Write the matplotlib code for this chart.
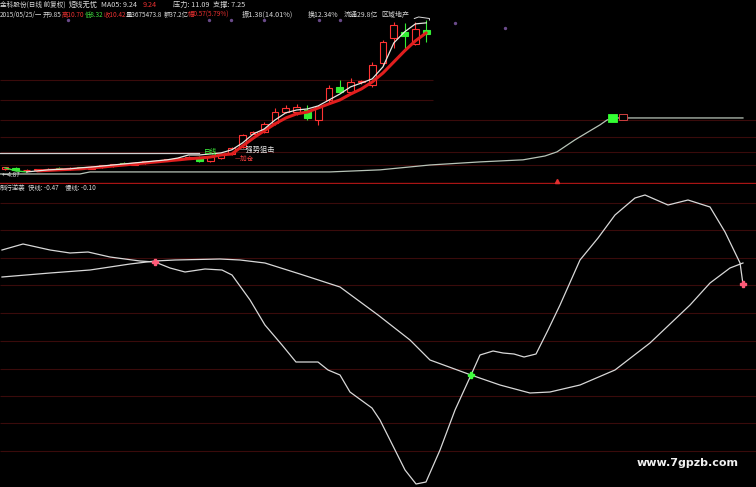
import matplotlib
matplotlib.use('Agg')
import matplotlib.pyplot as plt
from matplotlib.patches import Rectangle

plt.rcParams['font.family'] = ['Noto Sans CJK SC', 'DejaVu Sans']

# ---------------- data: daily candles (price) ----------------
bar_idx = list(range(40))
opens  = [5.00, 5.02, 4.93, 4.95, 4.96, 5.00, 4.98, 5.05, 5.00, 5.06,
          5.12, 5.22, 5.15, 5.20, 5.27, 5.30, 5.35, 5.40, 5.45, 5.30,
          5.41, 5.57, 5.84, 6.35, 6.43, 6.78, 7.20, 7.20, 7.28, 6.89,
          7.67, 8.18, 7.98, 8.35, 8.26, 9.11, 10.08, 10.30, 9.85, 10.40]
highs  = [5.08, 5.05, 4.97, 5.00, 5.02, 5.05, 5.06, 5.07, 5.10, 5.14,
          5.18, 5.24, 5.24, 5.30, 5.34, 5.38, 5.42, 5.48, 5.50, 5.50,
          5.58, 5.85, 6.35, 6.48, 6.82, 7.36, 7.48, 7.50, 7.48, 7.48,
          8.26, 8.45, 8.53, 8.45, 9.15, 10.00, 10.71, 10.67, 10.70, 10.78]
lows   = [4.96, 4.90, 4.87, 4.91, 4.93, 4.96, 4.96, 4.98, 4.98, 5.04,
          5.08, 5.12, 5.13, 5.18, 5.24, 5.28, 5.32, 5.36, 5.26, 5.26,
          5.38, 5.53, 5.82, 6.33, 6.39, 6.70, 7.17, 7.10, 6.89, 6.70,
          7.55, 7.96, 7.94, 8.30, 8.18, 9.03, 9.70, 9.62, 9.82, 9.93]
closes = [5.05, 4.93, 4.95, 4.97, 5.00, 4.98, 5.04, 5.00, 5.08, 5.12,
          5.16, 5.15, 5.22, 5.28, 5.31, 5.36, 5.40, 5.46, 5.30, 5.45,
          5.53, 5.80, 6.31, 6.42, 6.74, 7.20, 7.36, 7.40, 6.97, 7.40,
          8.14, 7.98, 8.37, 8.40, 9.03, 9.93, 10.59, 10.15, 10.42, 10.25]

# short MA (white) and long MA (thick red)
ma_short = [5.03, 4.91, 4.87, 4.91, 4.95, 4.97, 4.99, 5.03, 5.06, 5.10,
            5.14, 5.18, 5.22, 5.26, 5.30, 5.34, 5.41, 5.53, 5.53, 5.57,
            5.61, 5.73, 6.00, 6.35, 6.54, 6.89, 7.17, 7.28, 7.32, 7.44,
            7.67, 7.90, 8.18, 8.33, 8.49, 8.96, 9.89, 10.32, 10.63, 10.67]
ma_long = [None, None, None, 4.91, 4.93, 4.95, 4.97, 4.99, 5.03, 5.06,
           5.10, 5.14, 5.18, 5.22, 5.26, 5.30, 5.34, 5.38, 5.41, 5.45,
           5.53, 5.57, 5.88, 6.19, 6.47, 6.74, 6.97, 7.13, 7.20, 7.36,
           7.52, 7.67, 7.90, 8.10, 8.37, 8.72, 9.15, 9.58, 9.97, 10.28]

# zone line (gray) in the price panel
zone_x = [-0.46, 6.94, 7.87, 30.09, 34.72, 39.35, 43.98, 47.96, 50.0,
          51.11, 52.78, 54.17, 55.09, 55.74, 56.48, 68.33]
zone_y = [4.79, 4.79, 4.87, 4.87, 4.95, 5.14, 5.26, 5.34, 5.49,
          5.65, 6.12, 6.47, 6.70, 6.89, 6.97, 6.97]

# pressure line (white, left)
press_x = [-0.46, 18.0]
press_y = [5.61, 5.61]

# signal boxes on the zone line
sig_x = [56.25, 57.2]
sig_lo = [6.82, 6.89]
sig_hi = [7.13, 7.13]

# small purple dots near the top
dot_x = [5.83, 18.9, 20.9, 24.0, 29.1, 31.0, 41.7, 46.3]
dot_y = [10.78, 10.78, 10.78, 10.78, 10.78, 10.78, 10.67, 10.47]

price_grid_full = [6.89, 6.23, 5.65, 5.14]
price_grid_part = [8.45, 7.67]

# ---------------- data: indicator panel ----------------
fast_x = [-0.28, 1.67, 4.17, 6.02, 7.69, 9.72, 12.5, 13.89, 15.28, 16.67,
          18.52, 20.09, 21.02, 22.69, 24.07, 25.65, 26.94, 28.98, 29.91, 31.02,
          31.94, 33.98, 34.72, 35.65, 37.04, 38.06, 38.98, 40.28, 41.67, 43.15,
          43.98, 45.19, 46.11, 47.13, 48.06, 49.17, 50.28, 51.39, 53.24, 54.91,
          56.48, 58.33, 59.26, 61.39, 63.24, 65.28, 66.67, 68.06, 68.33]
fast_v = [0.80, 0.86, 0.80, 0.77, 0.78, 0.73, 0.69, 0.68, 0.62, 0.58,
          0.61, 0.60, 0.55, 0.30, 0.05, -0.15, -0.32, -0.32, -0.40, -0.45,
          -0.62, -0.78, -0.90, -1.10, -1.40, -1.54, -1.52, -1.20, -0.80, -0.45,
          -0.25, -0.21, -0.23, -0.24, -0.27, -0.24, 0.00, 0.25, 0.70, 0.92,
          1.15, 1.32, 1.35, 1.25, 1.30, 1.23, 0.98, 0.67, 0.46]
slow_x = [-0.28, 4.17, 7.87, 11.57, 13.89, 15.74, 19.91, 21.76, 24.07, 27.31,
          31.02, 34.54, 37.5, 39.35, 43.15, 45.83, 48.61, 50.46, 53.24, 56.48,
          59.72, 63.43, 65.28, 67.13, 68.33]
slow_v = [0.53, 0.57, 0.60, 0.66, 0.69, 0.70, 0.71, 0.70, 0.67, 0.56,
          0.43, 0.15, -0.10, -0.30, -0.45, -0.55, -0.63, -0.62, -0.55, -0.40,
          -0.13, 0.25, 0.47, 0.62, 0.67]
cross_red_x = [13.89, 68.33]
cross_red_v = [0.68, 0.46]
cross_green_x = [43.15]
cross_green_v = [-0.45]
ind_grid = [1.27, 1.00, 0.72, 0.45, 0.17, -0.11, -0.39, -0.66, -0.93, -1.21]

# ---------------- drawing ----------------
W, H = 756, 487
fig = plt.figure(figsize=(7.56, 4.87), dpi=100, facecolor='black')
ax = fig.add_axes([0, 303 / 487, 1, 184 / 487])
ax2 = fig.add_axes([0, 0, 1, 303 / 487])
for a in (ax, ax2):
    a.set_facecolor('black')
    a.set_axis_off()
    a.set_xlim(-0.463, 69.537)
ax.set_ylim(4.40, 11.56)
ax2.set_ylim(-1.57, 1.46)

RED = '#ff3333'
GREEN = '#33ee33'
GRID = '#3a0b0b'

# price panel grid
ax.hlines(price_grid_full, -0.463, 69.537, colors=GRID, lw=0.8, zorder=0)
ax.hlines(price_grid_part, -0.463, 39.6, colors=GRID, lw=0.8, zorder=0)
ax.axhline(4.44, color='#a81414', lw=1.0, zorder=1)

# zone + pressure lines
ax.plot(zone_x, zone_y, color='#b8c4b8', lw=0.9, zorder=2)
ax.plot(press_x, press_y, color='#d0d0d0', lw=0.9, zorder=2)

# candles
w = 0.62
for i, o, h, l, c in zip(bar_idx, opens, highs, lows, closes):
    up = c >= o
    col = RED if up else GREEN
    lo_b, hi_b = min(o, c), max(o, c)
    ax.vlines(i, l, lo_b, colors=col, lw=0.8, zorder=3)
    ax.vlines(i, hi_b, h, colors=col, lw=0.8, zorder=3)
    ax.add_patch(Rectangle((i - w / 2, lo_b), w, max(hi_b - lo_b, 0.03),
                           facecolor='black' if up else col,
                           edgecolor=col, lw=0.8, zorder=3))

# moving averages
ma_long_x = [i for i, v in zip(bar_idx, ma_long) if v is not None]
ma_long_v = [v for v in ma_long if v is not None]
ax.plot(ma_long_x, ma_long_v, color='#e01e1e', lw=2.2, zorder=4,
        solid_capstyle='round')
ax.plot(bar_idx[:3], ma_short[:3], color='#40e040', lw=1.0, zorder=5)
ax.plot(bar_idx[2:], ma_short[2:], color='#e8e8e0', lw=0.9, zorder=5)

# signal boxes
ax.add_patch(Rectangle((sig_x[0] - 0.42, sig_lo[0]), 0.84, sig_hi[0] - sig_lo[0],
                       facecolor='#33ff33', edgecolor='#33ff33', lw=0.6, zorder=4))
ax.add_patch(Rectangle((sig_x[1] - 0.36, sig_lo[1]), 0.72, sig_hi[1] - sig_lo[1],
                       facecolor='black', edgecolor='#d04040', lw=0.7, zorder=4))

# dots and marker
ax.scatter(dot_x, dot_y, s=2, color='#6a4a8a', zorder=2)
ax.plot([51.1], [4.52], marker='^', color='#e03030', ms=3, zorder=5)

# max marker near top right of candles
ax.plot([37.9, 38.3, 39.3, 39.3], [10.84, 10.90, 10.84, 10.78],
        color='#d8d8d8', lw=0.7, zorder=5)

# annotations in price panel
ax.text(21.76, 5.73, '—强势狙击', color='#e8e8e8', fontsize=5.2,
        va='center', ha='left', zorder=6)
ax.text(18.4, 5.64, '日线', color='#40ff40', fontsize=4.8,
        va='center', ha='left', zorder=6)
ax.text(21.3, 5.38, '—加仓', color='#ff4040', fontsize=4.8,
        va='center', ha='left', zorder=6)
ax.text(-0.3, 4.74, '←4.87', color='#d8d8d8', fontsize=4.6,
        va='center', ha='left', zorder=6)

# indicator panel
ax2.hlines(ind_grid, -0.463, 69.537, colors=GRID, lw=0.8, zorder=0)
ax2.plot(slow_x, slow_v, color='#d8d8d8', lw=0.9, zorder=2)
ax2.plot(fast_x, fast_v, color='#d8d8d8', lw=0.9, zorder=2)
ax2.plot(cross_red_x, cross_red_v, linestyle='none', marker='P',
         color='#ff5a78', ms=4.5, zorder=4)
ax2.plot(cross_green_x, cross_green_v, linestyle='none', marker='P',
         color='#40ff40', ms=4.5, zorder=4)

# header texts (figure pixel positions)
def ftext(px, py, s, color, size=4.6, **kw):
    fig.text(px / W, 1 - py / H, s, color=color, fontsize=size,
             va='center', ha='left', **kw)

WH = '#d8d8d8'
L1 = 5.2
ftext(0, 5, '金科股份(日线 前复权)', WH, size=4.8)
ftext(69, 5, '短线无忧', WH, size=L1)
ftext(101, 5, 'MA05: 9.24', WH, size=L1)
ftext(143, 5, '9.24', '#e83030', size=L1)
ftext(173, 5, '压力: 11.09', WH, size=L1)
ftext(213, 5, '支撑: 7.25', WH, size=L1)

ftext(0, 15, '2015/05/25/一', WH)
ftext(43, 15, '开9.85', WH)
ftext(61.5, 15, '高10.70', '#e83030')
ftext(84.5, 15, '低8.32', '#40e040')
ftext(103.5, 15, '收10.42', '#e83030')
ftext(126, 15, '量3675473.8', WH)
ftext(164, 15, '额37.2亿', WH)
ftext(188, 15, '幅0.57(5.79%)', '#e83030')
ftext(242, 15, '振1.38(14.01%)', WH, size=5.2)
ftext(308, 15, '换12.34%', WH, size=5.0)
ftext(344, 15, '流通29.8亿', WH, size=5.0)
ftext(381, 15, '区域地产', WH, size=5.0)

ftext(0, 188, '制行逆袭', WH)
ftext(28, 188, '快线: -0.47', WH)
ftext(65, 188, '慢线: -0.10', WH)

fig.text(637 / W, 1 - 463 / H, 'www.7gpzb.com', color='#f0f0f0',
         fontsize=8, fontweight='bold', va='center', ha='left',
         family=['DejaVu Sans'])

fig.savefig('out.png', dpi=100, facecolor='black')
